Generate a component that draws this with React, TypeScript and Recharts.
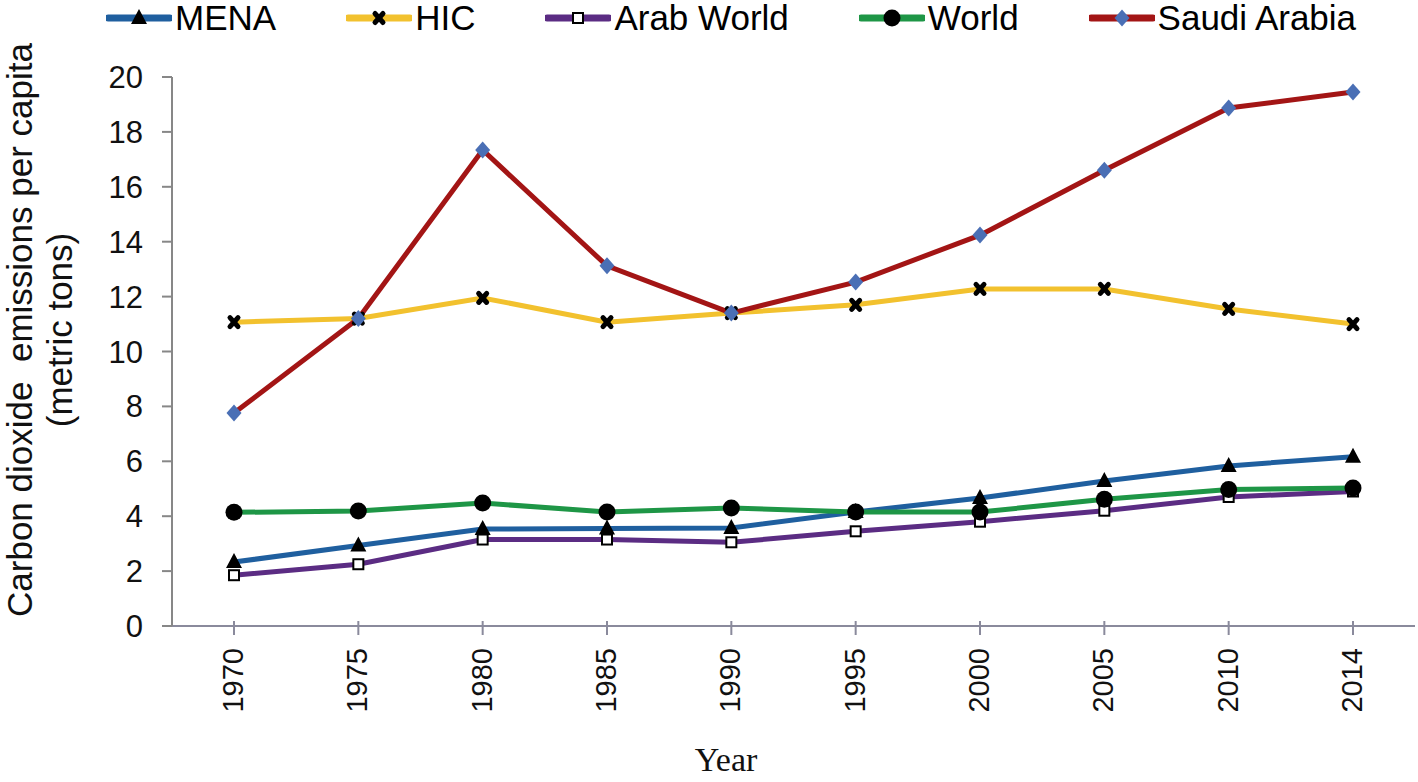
import React from 'react';
import { LineChart, Line, XAxis, YAxis, Legend } from 'recharts';

const years = ['1970', '1975', '1980', '1985', '1990', '1995', '2000', '2005', '2010', '2014'];
const mena = [2.33, 2.93, 3.53, 3.55, 3.57, 4.15, 4.66, 5.28, 5.83, 6.17];
const hic = [11.07, 11.2, 11.95, 11.07, 11.4, 11.7, 12.28, 12.28, 11.55, 11.0];
const arabWorld = [1.85, 2.25, 3.15, 3.15, 3.05, 3.45, 3.8, 4.2, 4.7, 4.9];
const world = [4.14, 4.19, 4.48, 4.15, 4.3, 4.15, 4.15, 4.62, 4.97, 5.03];
const saudiArabia = [7.76, 11.2, 17.34, 13.12, 11.4, 12.53, 14.24, 16.6, 18.87, 19.45];
const yTicks = [0, 2, 4, 6, 8, 10, 12, 14, 16, 18, 20];

const data = years.map((year, i) => ({
  year,
  MENA: mena[i],
  HIC: hic[i],
  'Arab World': arabWorld[i],
  World: world[i],
  'Saudi Arabia': saudiArabia[i],
}));

const FONT = '"Liberation Sans", Arial, sans-serif';

type Shape = 'triangle' | 'cross' | 'square' | 'circle' | 'diamond';

const SERIES: { key: string; color: string; shape: Shape }[] = [
  { key: 'MENA', color: '#1f5f9f', shape: 'triangle' },
  { key: 'HIC', color: '#f2c12e', shape: 'cross' },
  { key: 'Arab World', color: '#5b2c83', shape: 'square' },
  { key: 'World', color: '#1e9646', shape: 'circle' },
  { key: 'Saudi Arabia', color: '#a31515', shape: 'diamond' },
];

const Marker = ({ shape, cx, cy }: { shape: Shape; cx: number; cy: number }) => {
  switch (shape) {
    case 'triangle':
      return <polygon points={`${cx},${cy - 9} ${cx - 8},${cy + 6} ${cx + 8},${cy + 6}`} fill="#000" />;
    case 'cross':
      return (
        <g stroke="#000" strokeWidth={5} strokeLinecap="round">
          <line x1={cx - 4} y1={cy - 4.5} x2={cx + 4} y2={cy + 4.5} />
          <line x1={cx - 4} y1={cy + 4.5} x2={cx + 4} y2={cy - 4.5} />
        </g>
      );
    case 'square':
      return <rect x={cx - 5} y={cy - 5} width={10} height={10} fill="#fff" stroke="#000" strokeWidth={2} />;
    case 'circle':
      return <circle cx={cx} cy={cy} r={8.5} fill="#000" />;
    case 'diamond':
      return <polygon points={`${cx},${cy - 8.5} ${cx + 7.5},${cy} ${cx},${cy + 8.5} ${cx - 7.5},${cy}`} fill="#4a6fb5" />;
  }
  return null;
};

const makeDot = (shape: Shape) => (props: any) => {
  const { cx, cy, index } = props;
  if (cx == null || cy == null) return <g key={index} />;
  return (
    <g key={`${shape}-${index}`}>
      <Marker shape={shape} cx={cx} cy={cy} />
    </g>
  );
};

const LegendContent = () => (
  <div style={{ display: 'flex', alignItems: 'center', gap: 70, fontFamily: FONT, fontSize: 35, color: '#000', lineHeight: '36px' }}>
    {SERIES.map((s) => (
      <div key={s.key} style={{ display: 'flex', alignItems: 'center' }}>
        <svg width={66} height={24} style={{ marginRight: 3 }}>
          <line x1={2} y1={12} x2={64} y2={12} stroke={s.color} strokeWidth={7} strokeLinecap="round" />
          <Marker shape={s.shape} cx={33} cy={12} />
        </svg>
        <span>{s.key}</span>
      </div>
    ))}
  </div>
);

const XTick = (props: any) => {
  const { x, y, payload } = props;
  return (
    <g>
      <line x1={x} y1={y - 15} x2={x} y2={y - 1} stroke="#8a8a9c" strokeWidth={2} />
      <text
        x={x - 1}
        y={y + 12}
        transform={`rotate(-90, ${x - 1}, ${y + 12})`}
        textAnchor="end"
        dominantBaseline="central"
        fontFamily={FONT}
        fontSize={29}
        fill="#111"
      >
        {payload.value}
      </text>
    </g>
  );
};

const YTitle = () => (
  <g fontFamily={FONT} fontSize={35} fill="#111">
    <text x={32} y={330} transform="rotate(-90, 32, 330)" textAnchor="middle" xmlSpace="preserve">
      Carbon dioxide  emissions per capita
    </text>
    <text x={72} y={330} transform="rotate(-90, 72, 330)" textAnchor="middle">
      (metric tons)
    </text>
  </g>
);

const XTitle = () => (
  <text x={726} y={771} textAnchor="middle" fontFamily='"Liberation Serif", "Times New Roman", serif' fontSize={34} fill="#111">
    Year
  </text>
);

export default function App() {
  return (
    <div style={{ position: 'absolute', left: 0, top: 0, width: 1418, height: 782, background: '#fff' }}>
      <LineChart width={1418} height={782} data={data} margin={{ top: 77, right: 3, bottom: 56, left: 72 }}>
        <XAxis
          dataKey="year"
          height={100}
          padding={{ left: 62, right: 62 }}
          axisLine={{ stroke: '#8a8a9c', strokeWidth: 2 }}
          tickLine={false}
          tickSize={8}
          tickMargin={2}
          interval={0}
          tick={<XTick />}
          label={() => <XTitle />}
        />
        <YAxis
          width={100}
          domain={[0, 20]}
          ticks={yTicks}
          interval={0}
          axisLine={{ stroke: '#878787', strokeWidth: 2 }}
          tickLine={{ stroke: '#878787', strokeWidth: 2 }}
          tickSize={10}
          tickMargin={19}
          tick={{ fontFamily: FONT, fontSize: 31, fill: '#111' }}
          label={() => <YTitle />}
        />
        <Legend
          layout="horizontal"
          verticalAlign="middle"
          align="center"
          wrapperStyle={{ position: 'absolute', top: 0, left: 106, width: 'auto' }}
          content={<LegendContent />}
        />
        {SERIES.map((s) => (
          <Line
            key={s.key}
            type="linear"
            dataKey={s.key}
            stroke={s.color}
            strokeWidth={5}
            dot={makeDot(s.shape)}
            activeDot={false}
            isAnimationActive={false}
          />
        ))}
      </LineChart>
    </div>
  );
}
